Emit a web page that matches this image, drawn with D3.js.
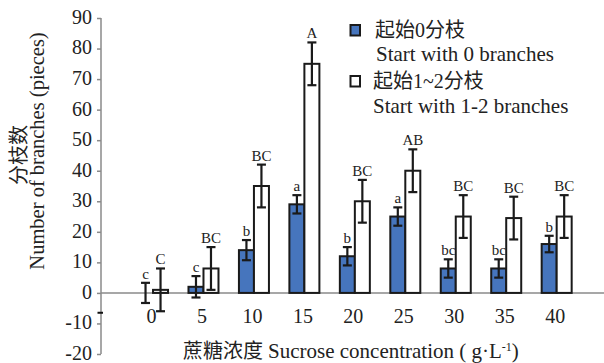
<!DOCTYPE html>
<html><head><meta charset="utf-8">
<script src="https://cdn.jsdelivr.net/npm/d3@7"></script>
<style>body{margin:0;background:#fff}svg{display:block}</style>
</head><body>
<script>
const categories = ["0","5","10","15","20","25","30","35","40"];
const series0 = [0, 2, 14, 29, 12, 25, 8, 8, 16];
const err0 = [3.3, 3.5, 3.3, 3, 3, 3, 3, 3, 2.7];
const letters0 = ["c","c","b","a","b","a","bc","bc","b"];
const series1 = [1, 8, 35, 75, 30, 40, 25, 24.5, 25];
const err1 = [7, 7, 7, 7, 7, 7, 7, 7, 7];
const letters1 = ["C","BC","BC","A","BC","AB","BC","BC","BC"];
const yTicks = [90,80,70,60,50,40,30,20,10,0,-10,-20];
const seriesNames = ["起始0分枝","起始1~2分枝"];
const seriesNamesEn = ["Start with 0 branches","Start with 1-2 branches"];

const W = 604, H = 363;
const serif = '"Liberation Serif","Times New Roman","Noto Sans CJK SC",serif';
const svg = d3.select("body").append("svg").attr("width", W).attr("height", H);

const y = d3.scaleLinear().domain([-20, 90]).range([354, 18]);
const x = d3.scaleBand().domain(categories).range([127.8, 581.9]).padding(0);
const x1 = d3.scaleBand().domain([0,1]).range([-15, 15]).padding(0);
const cx = c => x(c) + x.bandwidth()/2;

// y axis
const yAxis = svg.append("g").attr("transform","translate(101,0)")
  .call(d3.axisLeft(y).tickValues(yTicks).tickSize(4).tickPadding(5).tickFormat(d => String(d)));
yAxis.select(".domain").attr("stroke","#8a8a8a").attr("stroke-width",1.5).attr("d","M0,18V354");
yAxis.selectAll(".tick line").attr("stroke","#8a8a8a").attr("stroke-width",1.5);
yAxis.selectAll(".tick text").attr("font-family",serif).attr("font-size",20).attr("fill","#222").attr("dy","0.27em");

// small black mark on the axis
svg.append("line").attr("x1",97.5).attr("x2",103).attr("y1",y(-6.5)).attr("y2",y(-6.5))
  .attr("stroke","#111").attr("stroke-width",2);

// zero line
svg.append("line").attr("x1",101).attr("x2",W).attr("y1",y(0)).attr("y2",y(0))
  .attr("stroke","#8a8a8a").attr("stroke-width",1.5);

// x tick labels
svg.append("g").selectAll("text").data(categories).join("text")
  .attr("x", c => cx(c) - 1.5).attr("y", 322.5).attr("text-anchor","middle")
  .attr("font-family",serif).attr("font-size",20).attr("fill","#222").text(c => c);

const data = [
  {vals: series0, errs: err0, letters: letters0, fill: "#4675bd"},
  {vals: series1, errs: err1, letters: letters1, fill: "#ffffff"}
];

data.forEach((s, si) => {
  const g = svg.append("g");
  const rows = categories.map((c,i) => ({c, v: s.vals[i], e: s.errs[i], l: s.letters[i]}));
  g.selectAll("rect").data(rows).join("rect")
    .attr("x", d => cx(d.c) + x1(si))
    .attr("width", x1.bandwidth())
    .attr("y", d => y(Math.max(0, d.v)))
    .attr("height", d => Math.abs(y(d.v) - y(0)))
    .attr("fill", s.fill).attr("stroke","#1a1a1a").attr("stroke-width",2);
  const eb = g.append("g").attr("stroke","#1a1a1a").attr("stroke-width",2.2);
  rows.forEach(d => {
    const ex = cx(d.c) + x1(si) + x1.bandwidth()/2;
    eb.append("line").attr("x1",ex).attr("x2",ex).attr("y1",y(d.v+d.e)).attr("y2",y(d.v-d.e));
    eb.append("line").attr("x1",ex-4.5).attr("x2",ex+4.5).attr("y1",y(d.v+d.e)).attr("y2",y(d.v+d.e));
    eb.append("line").attr("x1",ex-4.5).attr("x2",ex+4.5).attr("y1",y(d.v-d.e)).attr("y2",y(d.v-d.e));
  });
  g.selectAll("text.lab").data(rows).join("text").attr("class","lab")
    .attr("x", d => cx(d.c) + x1(si) + x1.bandwidth()/2)
    .attr("y", d => y(d.v+d.e) - 4)
    .attr("text-anchor","middle").attr("font-family",serif).attr("font-size",15).attr("fill","#222")
    .text(d => d.l);
});

// legend
const lg = svg.append("g");
[0,1].forEach(i => {
  const y0 = i === 0 ? 25 : 76;
  lg.append("rect").attr("x",350.5).attr("y",y0).attr("width",9.5).attr("height",10.5)
    .attr("fill", data[i].fill).attr("stroke","#1a1a1a").attr("stroke-width",2);
  lg.append("text").attr("x", i===0?375:373).attr("y", y0+11.5)
    .attr("font-family",serif).attr("font-size",20).attr("fill","#222").text(seriesNames[i]);
  lg.append("text").attr("x", i===0?376:373).attr("y", y0 + (i===0?36:37))
    .attr("font-family",serif).attr("font-size",21).attr("fill","#222").text(seriesNamesEn[i]);
});

// axis titles
svg.append("text").attr("transform","translate(26,155) rotate(-90)").attr("text-anchor","middle")
  .attr("font-family",serif).attr("font-size",20).attr("fill","#222").text("分枝数");
svg.append("text").attr("transform","translate(44,151) rotate(-90)").attr("text-anchor","middle")
  .attr("font-family",serif).attr("font-size",20.5).attr("fill","#222").text("Number of branches (pieces)");

const xt = svg.append("text").attr("x",183).attr("y",358)
  .attr("font-family",serif).attr("font-size",20).attr("fill","#222");
xt.append("tspan").text("蔗糖浓度 ");
xt.append("tspan").attr("font-size",21).text("Sucrose concentration ( g·L");
xt.append("tspan").attr("dy",-7).attr("font-size",12).text("-1");
xt.append("tspan").attr("dy",7).attr("font-size",21).text(")");
</script>
</body></html>
